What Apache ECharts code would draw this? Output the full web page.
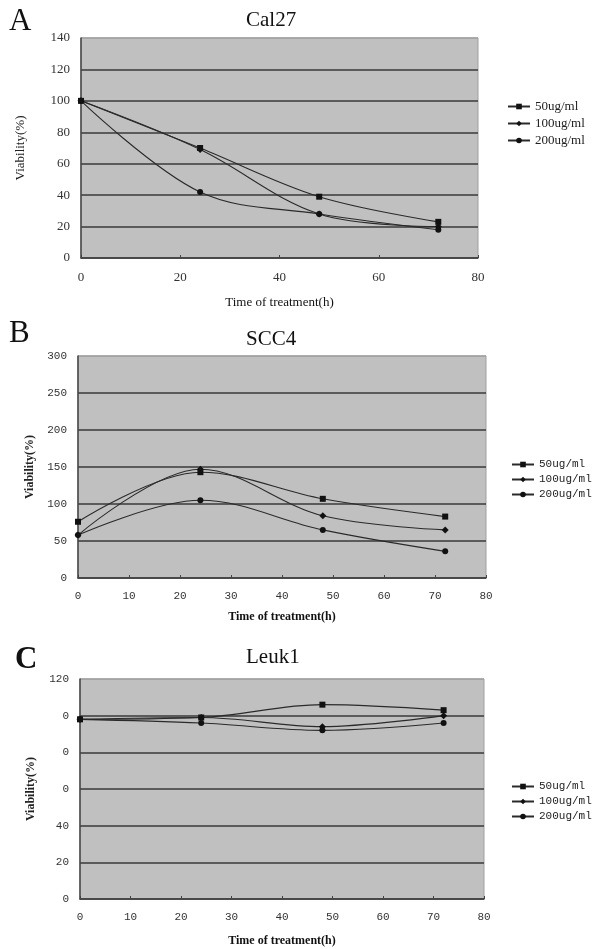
<!DOCTYPE html>
<html><head><meta charset="utf-8">
<script src="https://cdn.jsdelivr.net/npm/echarts@6/dist/echarts.min.js"></script>
<style>html,body{margin:0;padding:0;background:#fff}#c{width:600px;height:949px}</style>
</head><body><div id="c"></div>
<script>
var hours = [0, 24, 48, 72];
var seriesNames = ['50ug/ml', '100ug/ml', '200ug/ml'];
var cal27_50 = [100, 70, 39, 23];
var cal27_100 = [100, 69, 28, 20];
var cal27_200 = [100, 42, 28, 18];
var scc4_50 = [76, 143, 107, 83];
var scc4_100 = [58, 147, 84, 65];
var scc4_200 = [58, 105, 65, 36];
var leuk1_50 = [98, 99, 106, 103];
var leuk1_100 = [98, 99, 94, 100];
var leuk1_200 = [98, 96, 92, 96];
var leukTickLabels = {0: '0', 20: '20', 40: '40', 60: '0', 80: '0', 100: '0', 120: '120'};
var panelTitles = ['Cal27', 'SCC4', 'Leuk1'];
var panelLetters = ['A', 'B', 'C'];

var serif = 'Liberation Serif';
var mono = 'Liberation Mono';
var symbols = ['rect', 'diamond', 'circle'];
var symSizes = [6, 7, 6];

function pairs(v) { return hours.map(function (h, i) { return [h, v[i]]; }); }

var grids = [
  {left: 81, top: 38, width: 397, height: 220},
  {left: 78, top: 356, width: 408, height: 222},
  {left: 80, top: 679, width: 404, height: 220}
];
grids.forEach(function (g) { g.show = true; g.backgroundColor = '#c0c0c0'; g.borderColor = '#a0a0a0'; g.borderWidth = 1; });

function xAxis(i, interval, font, size, bold, gap) {
  return {
    type: 'value', gridIndex: i, min: 0, max: 80, interval: interval,
    name: 'Time of treatment(h)', nameLocation: 'middle', nameGap: gap,
    nameTextStyle: {fontFamily: serif, fontSize: bold ? 12 : 13, fontWeight: bold ? 'bold' : 'normal', color: '#111'},
    axisLine: {lineStyle: {color: '#444', width: 1.5}},
    axisTick: {inside: true, length: 3, lineStyle: {color: '#444'}},
    axisLabel: {fontFamily: font, fontSize: size, color: '#333', margin: 13},
    splitLine: {show: false}
  };
}
function yAxis(i, max, interval, font, size, bold, gap, fmt) {
  var n = max / interval + 1, cols = [];
  for (var k = 0; k < n; k++) cols.push(k === n - 1 ? '#a0a0a0' : '#3a3a3a');
  return {
    type: 'value', gridIndex: i, min: 0, max: max, interval: interval,
    name: 'Viability(%)', nameLocation: 'middle', nameGap: gap,
    nameTextStyle: {fontFamily: serif, fontSize: bold ? 12 : 13, fontWeight: bold ? 'bold' : 'normal', color: '#222'},
    axisLine: {show: true, lineStyle: {color: '#444', width: 1.5}},
    axisTick: {show: false},
    axisLabel: {fontFamily: font, fontSize: size, color: '#333', margin: 11, formatter: fmt},
    splitLine: {show: true, lineStyle: {color: cols, width: 1.5}}
  };
}

var data = [[cal27_50, cal27_100, cal27_200], [scc4_50, scc4_100, scc4_200], [leuk1_50, leuk1_100, leuk1_200]];
var series = [];
data.forEach(function (panel, p) {
  panel.forEach(function (vals, s) {
    series.push({
      type: 'line', name: seriesNames[s], xAxisIndex: p, yAxisIndex: p,
      data: pairs(vals), smooth: 0.35, symbol: symbols[s], symbolSize: symSizes[s],
      lineStyle: {color: '#2a2a2a', width: 1.1}, itemStyle: {color: '#111'}, z: 3 + s
    });
  });
});

function legend(top, left, font, size, gap) {
  return {
    orient: 'vertical', left: left, top: top, itemWidth: 22, itemHeight: 7, itemGap: gap,
    data: seriesNames, textStyle: {fontFamily: font, fontSize: size, color: '#222'},
    selectedMode: false, inactiveColor: '#222'
  };
}

var titleTops = [5, 324, 642];
var letterTops = [6, 318, 644];
var option = {
  animation: false,
  title: panelTitles.map(function (t, i) {
    return {text: t, left: 241, top: titleTops[i], textStyle: {fontFamily: serif, fontSize: 21, fontWeight: 'normal', color: '#111'}};
  }),
  legend: [legend(95, 502, serif, 13, 4), legend(454, 506, mono, 11, 4), legend(776, 506, mono, 11, 4)],
  grid: grids,
  xAxis: [xAxis(0, 20, serif, 13, false, 38), xAxis(1, 10, mono, 11, true, 33), xAxis(2, 10, mono, 11, true, 36)],
  yAxis: [
    yAxis(0, 140, 20, serif, 13, false, 54),
    yAxis(1, 300, 50, mono, 11, true, 41),
    yAxis(2, 120, 20, mono, 11, true, 43, function (v) { return leukTickLabels[v]; })
  ],
  series: series,
  graphic: panelLetters.map(function (l, i) {
    return {type: 'text', left: i === 2 ? 15 : 9, top: letterTops[i],
      style: {text: l, fontFamily: serif, fontSize: 31, fontWeight: i === 2 ? 'bold' : 'normal', fill: '#111'}};
  })
};
var chart = echarts.init(document.getElementById('c'), null, {renderer: 'canvas'});
chart.setOption(option);
</script></body></html>
